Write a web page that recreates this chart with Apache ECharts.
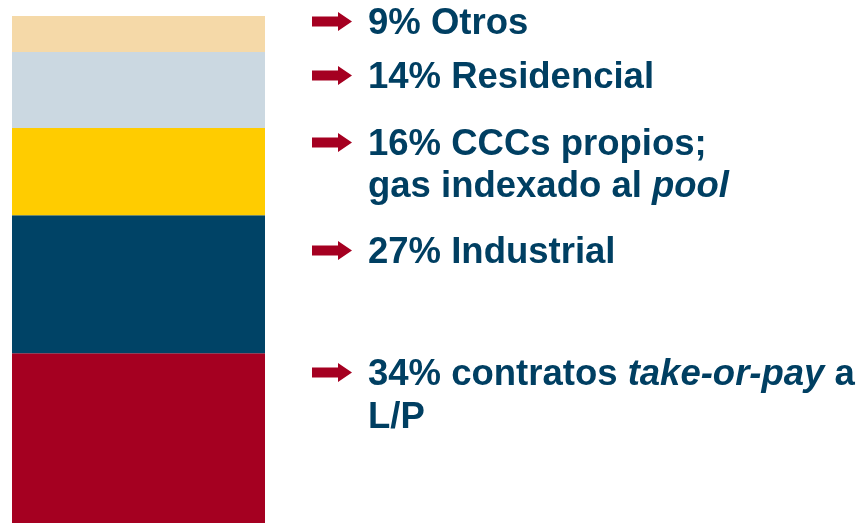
<!DOCTYPE html>
<html>
<head>
<meta charset="utf-8">
<script src="https://cdn.jsdelivr.net/npm/echarts@6/dist/echarts.min.js"></script>
<style>
html,body{margin:0;padding:0;background:#fff;}
#c{width:868px;height:523px;}
</style>
</head>
<body>
<div id="c"></div>
<script>
// Data (bar shares; labels as printed)
const categories = ['Mix'];
const segmentNames = ['Contratos take-or-pay a L/P', 'Industrial', 'CCCs propios; gas indexado al pool', 'Residencial', 'Otros'];
const segmentValues = [33.5, 27.2, 17.2, 15.0, 7.1];
const segmentColors = ['#A50021', '#004366', '#FFCC00', '#CBD8E1', '#F5D9A8'];

const chart = echarts.init(document.getElementById('c'), null, {renderer: 'canvas'});

const series = segmentValues.map((v, i) => ({
  name: segmentNames[i],
  type: 'bar',
  stack: 'total',
  data: [v],
  barWidth: '100%',
  itemStyle: {color: segmentColors[i]},
  silent: true
}));

// text layout
const textLeft = 368;
const textColor = '#003F62';
const fontSize = 36.5;
// baselines of each text line
const baselines = [34, 88, 155, 197, 263, 385, 428];
const lines = [
  {parts: [['n', '9% Otros']], arrow: true},
  {parts: [['n', '14% Residencial']], arrow: true},
  {parts: [['n', '16% CCCs propios;']], arrow: true},
  {parts: [['n', 'gas indexado al '], ['i', 'pool']], arrow: false},
  {parts: [['n', '27% Industrial']], arrow: true},
  {parts: [['n', '34% contratos '], ['i', 'take-or-pay'], ['n', ' a']], arrow: true},
  {parts: [['n', 'L/P']], arrow: false}
];

const graphics = [];
lines.forEach((ln, idx) => {
  const bl = baselines[idx];
  const center = bl - 13;
  const text = ln.parts.map(p => '{' + p[0] + '|' + p[1] + '}').join('');
  graphics.push({
    type: 'text',
    left: textLeft,
    top: center - 16,
    style: {
      text: text,
      rich: {
        n: {fontFamily: 'Liberation Sans, Arial, sans-serif', fontWeight: 'bold', fontSize: fontSize, fill: textColor, lineHeight: 42},
        i: {fontFamily: 'Liberation Sans, Arial, sans-serif', fontWeight: 'bold', fontStyle: 'italic', fontSize: fontSize, fill: textColor, lineHeight: 42}
      }
    }
  });
  if (ln.arrow) {
    const cy = center + 0.5;
    graphics.push({
      type: 'polygon',
      shape: {points: [
        [312, cy - 5], [338, cy - 5], [338, cy - 9.5], [352, cy], [338, cy + 9.5], [338, cy + 5], [312, cy + 5]
      ]},
      style: {fill: '#A50021'}
    });
  }
});

chart.setOption({
  animation: false,
  backgroundColor: '#ffffff',
  grid: {left: 12, top: 16, width: 253, bottom: 0, containLabel: false},
  xAxis: {type: 'category', data: categories, show: false},
  yAxis: {type: 'value', min: 0, max: 100, show: false},
  series: series,
  graphic: graphics
});
</script>
</body>
</html>
